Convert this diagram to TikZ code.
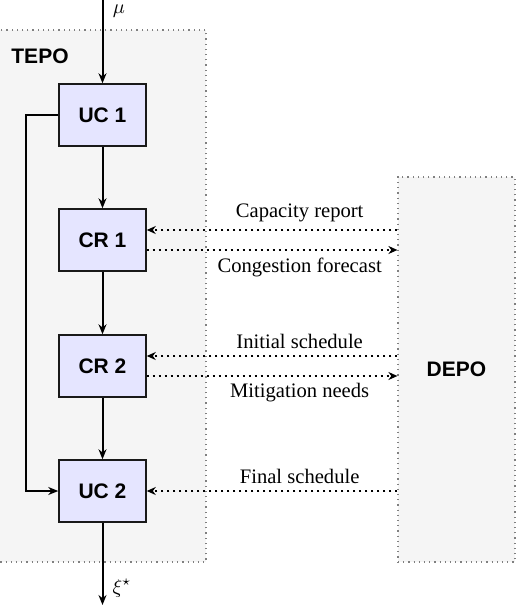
\documentclass[tikz,border=0pt]{standalone}
\usepackage{fontspec}
\setmainfont{Liberation Serif}
\setsansfont{Liberation Sans}
\usetikzlibrary{arrows.meta}
\begin{document}
\begin{tikzpicture}[x=0.5pt,y=-0.5pt,
 blk/.style={draw=black!90, fill=blue!10, line width=0.75pt, minimum width=43.5pt, minimum height=31pt, font=\sffamily\bfseries\fontsize{10.5}{12}\selectfont, inner sep=0pt},
 region/.style={draw=black!50, dotted, fill=black!4, line width=0.6pt, inner sep=0pt},
 flow/.style={-{Stealth[length=5pt,width=4pt]}, line width=1pt},
 info/.style={dotted, line width=1pt, -{Stealth[length=4.5pt,width=4pt]}},
 lbl/.style={font=\fontsize{10.3}{12}\selectfont},
 ttl/.style={font=\sffamily\bfseries\fontsize{10.5}{12}\selectfont}]
\useasboundingbox (0,0) rectangle (516,607);
\node[region, minimum width=108pt, minimum height=266pt] (tepo) at (98,296) {};
\node[region, minimum width=58.5pt, minimum height=192.5pt, ttl] (depo) at (456.5,369.5) {DEPO};
\node[ttl] (tepolbl) at (40,56) {TEPO};
\node[blk] (uc1) at (102.5,115) {UC 1};
\node[blk] (cr1) at (102.5,240) {CR 1};
\node[blk] (cr2) at (102.5,366) {CR 2};
\node[blk] (uc2) at (102.5,491) {UC 2};
\coordinate (in) at (102.5,0);
\coordinate (out) at (102.5,605);
\node (mu) at (119,11) {$\mu$};
\node (xi) at (122,588) {$\xi^\star$};
\draw[flow] (in) -- (uc1);
\draw[flow] (uc1) -- (cr1);
\draw[flow] (cr1) -- (cr2);
\draw[flow] (cr2) -- (uc2);
\draw[flow] (uc2) -- (out);
\draw[flow] (uc1.west) -- ++(-32,0) |- (uc2.west);
\coordinate (cr1a) at ([yshift=5pt]cr1.east);
\coordinate (cr1b) at ([yshift=-5pt]cr1.east);
\coordinate (cr2a) at ([yshift=5pt]cr2.east);
\coordinate (cr2b) at ([yshift=-5pt]cr2.east);
\draw[info] (depo.west |- cr1a) -- (cr1a) node[lbl, pos=0.39, above] {Capacity report};
\draw[info] (cr1b) -- (depo.west |- cr1b) node[lbl, pos=0.61, below] {Congestion forecast};
\draw[info] (depo.west |- cr2a) -- (cr2a) node[lbl, pos=0.39, above] {Initial schedule};
\draw[info] (cr2b) -- (depo.west |- cr2b) node[lbl, pos=0.61, below] {Mitigation needs};
\draw[info] (depo.west |- uc2.east) -- (uc2.east) node[lbl, pos=0.39, above] {Final schedule};
\end{tikzpicture}
\end{document}
